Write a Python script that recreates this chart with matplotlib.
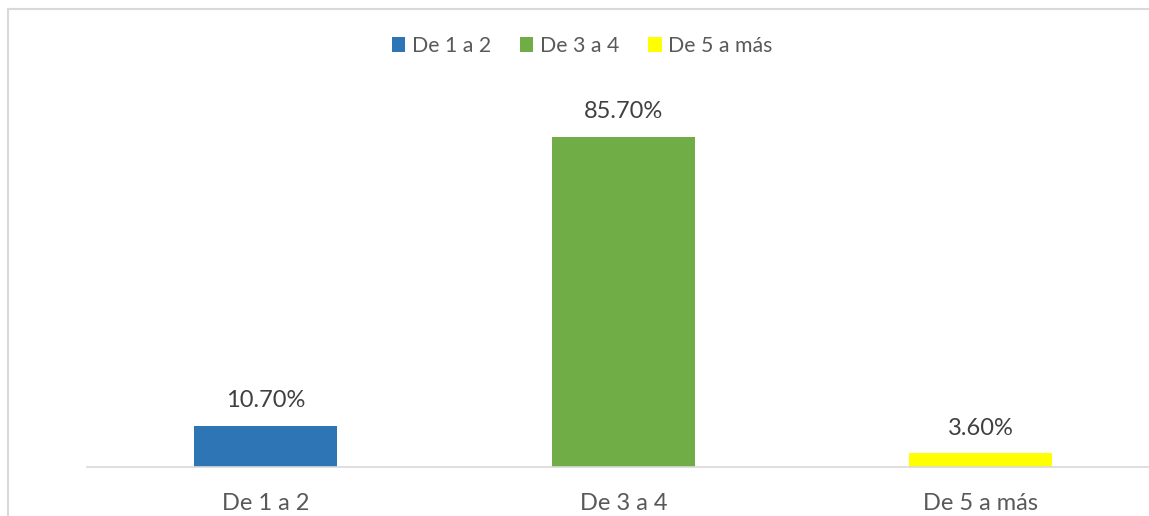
import matplotlib
matplotlib.use('Agg')
import matplotlib.pyplot as plt
from matplotlib.lines import Line2D
from matplotlib.patches import Patch

# data
categories = ['De 1 a 2', 'De 3 a 4', 'De 5 a más']
values = [10.7, 85.7, 3.6]
labels = ['10.70%', '85.70%', '3.60%']
colors = ['#2e75b6', '#70ad47', '#ffff00']

plt.rcParams['font.family'] = ['Lato', 'DejaVu Sans']

W, H = 1149, 516
fig = plt.figure(figsize=(W / 100, H / 100), dpi=100)
ax = fig.add_axes([87 / W, (H - 467) / H, (1159.5 - 87) / W, (467 - 82) / H])

x = range(len(categories))
bars = ax.bar(x, values, width=0.4, color=colors, zorder=2)
for xi, v, lab in zip(x, values, labels):
    ax.text(xi, v + 3.8, lab, ha='center', va='bottom', fontsize=17, color='#404040')

ax.set_xlim(-0.5, 2.5)
ax.set_ylim(0, 100)
ax.set_xticks(list(x))
ax.set_xticklabels(categories, fontsize=17, color='#595959')
ax.tick_params(axis='x', length=0, pad=19)
ax.set_yticks([])
for s in ['top', 'right', 'left']:
    ax.spines[s].set_visible(False)
ax.spines['bottom'].set_color('#d9d9d9')
ax.spines['bottom'].set_linewidth(1.2)

handles = [Patch(facecolor=c, edgecolor='none') for c in colors]
fig.legend(handles, categories, loc='center', bbox_to_anchor=(582 / W, 1 - 46 / H),
           ncol=3, frameon=False, fontsize=15.3, labelcolor='#595959',
           handlelength=0.65, handleheight=0.65, handletextpad=0.3, columnspacing=1.35)

# chart border (partially visible)
fig.add_artist(Line2D([7.5 / W, 7.5 / W], [0, 1 - 9 / H], color='#d9d9d9', lw=1.5))
fig.add_artist(Line2D([7.5 / W, 1148 / W], [1 - 9 / H, 1 - 9 / H], color='#d9d9d9', lw=1.5))

fig.savefig('out.png', dpi=100)
